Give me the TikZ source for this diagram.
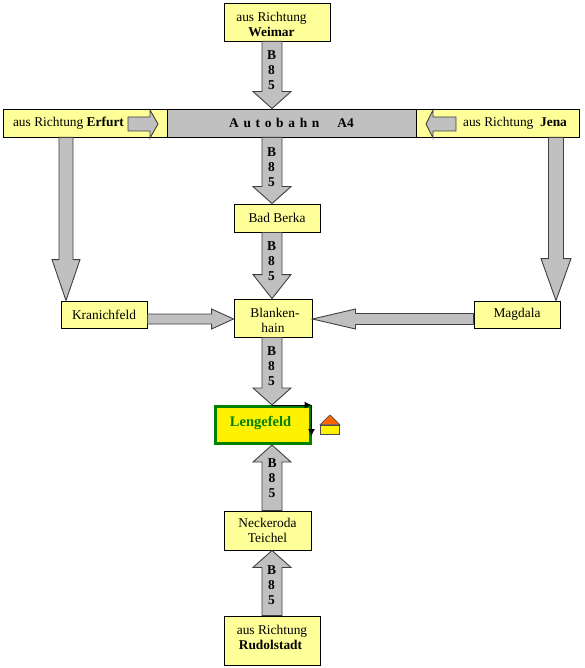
\documentclass[tikz,border=0pt]{standalone}
\usepackage{fontspec}
\setmainfont{Liberation Serif}
\usetikzlibrary{calc,arrows.meta}
\definecolor{boxyellow}{HTML}{FFFF99}
\definecolor{roadgray}{HTML}{C0C0C0}
\definecolor{placegreen}{HTML}{008000}
\definecolor{roofred}{HTML}{FF6600}
\tikzset{
  stopbox/.style={draw=black,line width=0.9pt,fill=boxyellow,inner sep=0pt,align=center},
  roadbox/.style={draw=black,line width=0.9pt,fill=roadgray,inner sep=0pt,align=center},
  placebox/.style={draw=placegreen,line width=3pt,fill=yellow,inner sep=0pt,text=placegreen,font=\fontsize{14.5}{15}\selectfont\bfseries},
  arrowline/.style={draw=black!75,line width=0.9pt,fill=roadgray,line join=miter},
  roadlabel/.style={font=\fontsize{13.5}{15}\selectfont\bfseries,align=center,inner sep=0pt},
  markline/.style={draw=black,line width=1pt,-{Latex[length=7pt,width=7pt]}}
}
\newcommand{\blockarrow}[5]{%
  \draw[arrowline] ($(#1)!#3!90:(#2)$) -- ($(#2)!#5!(#1)!#3!90:(#2)$)
    -- ($(#2)!#5!(#1)!#4!90:(#2)$) -- (#2) -- ($(#2)!#5!(#1)!#4!-90:(#2)$)
    -- ($(#2)!#5!(#1)!#3!-90:(#2)$) -- ($(#1)!#3!-90:(#2)$) -- cycle;}
\begin{document}
\begin{tikzpicture}[x=1pt,y=-1pt,font=\fontsize{13.4}{15}\selectfont]
\useasboundingbox (0,0) rectangle (584,668);
\coordinate (axis) at (272,0);
\coordinate (erfurtaxis) at (66,0);
\coordinate (jenaaxis) at (556,0);
\coordinate (sideaxis) at (0,319);

\node[stopbox,minimum width=106pt,minimum height=38pt] (weimar) at (277,22) {\rule{0pt}{14pt}aus Richtung\hspace*{11pt}\\\textbf{Weimar}\hspace*{11pt}};
\node[roadbox,minimum width=249pt,minimum height=28pt] (autobahn) at (291.5,123) {\spaceskip=4.7pt\textbf{A u t o b a h n \quad A4}};
\node[stopbox,minimum width=164pt,minimum height=28pt] (erfurt) at (85,123) {aus Richtung \textbf{Erfurt}\hspace*{33pt}};
\node[stopbox,minimum width=163pt,minimum height=28pt] (jena) at (497.5,123) {\hspace*{35pt}aus Richtung \ \textbf{Jena}};
\node[stopbox,minimum width=86pt,minimum height=28pt] (badberka) at (277,218) {Bad Berka};
\node[stopbox,minimum width=86pt,minimum height=27pt] (kranichfeld) at (104,314.5) {Kranichfeld};
\node[stopbox,minimum width=86pt,minimum height=27pt] (magdala) at (517,314.5) {Magdala};
\node[stopbox,minimum width=78pt,minimum height=38pt] (blankenhain) at (273,318) {\rule{0pt}{15pt}\hspace*{4pt}Blanken-\\hain};
\node[placebox,minimum width=95pt,minimum height=37pt] (lengefeld) at (263,425) {\rule[-8pt]{0pt}{8pt}Lengefeld\hspace*{5pt}};
\node[stopbox,minimum width=87pt,minimum height=39pt] (neckeroda) at (267.5,530.5) {Neckeroda\\Teichel};
\node[stopbox,minimum width=96pt,minimum height=49pt] (rudolstadt) at (272,640.5) {aus Richtung\\\rule[-7pt]{0pt}{7pt}\textbf{Rudolstadt}\hspace*{3pt}};

\blockarrow{axis |- weimar.south}{axis |- autobahn.north}{10pt}{19pt}{17pt}
\blockarrow{axis |- autobahn.south}{axis |- badberka.north}{10pt}{19pt}{17pt}
\blockarrow{axis |- badberka.south}{axis |- blankenhain.north}{10pt}{19pt}{24pt}
\blockarrow{axis |- blankenhain.south}{axis |- lengefeld.north}{10pt}{19pt}{17pt}
\blockarrow{axis |- neckeroda.north}{axis |- lengefeld.south}{10pt}{19pt}{17pt}
\blockarrow{axis |- rudolstadt.north}{axis |- neckeroda.south}{10pt}{19pt}{17pt}
\blockarrow{erfurtaxis |- erfurt.south}{erfurtaxis |- kranichfeld.north}{7pt}{14pt}{41pt}
\blockarrow{jenaaxis |- jena.south}{jenaaxis |- magdala.north}{7.5pt}{15pt}{42pt}
\blockarrow{kranichfeld.east |- sideaxis}{blankenhain.west |- sideaxis}{5pt}{10pt}{22pt}
\blockarrow{magdala.west |- sideaxis}{blankenhain.east |- sideaxis}{5.5pt}{10pt}{43pt}

\coordinate (erfurttail) at (128,124);
\coordinate (erfurttip) at (158,124);
\coordinate (jenatail) at (456,124);
\coordinate (jenatip) at (426,124);
\blockarrow{erfurttail}{erfurttip}{7pt}{14pt}{8pt}
\blockarrow{jenatail}{jenatip}{7pt}{14pt}{7pt}

\node[roadlabel] (road1) at (271.5,70) {B\\8\\5};
\node[roadlabel] (road2) at (271.5,167) {B\\8\\5};
\node[roadlabel] (road3) at (271.5,261) {B\\8\\5};
\node[roadlabel] (road4) at (271.5,366) {B\\8\\5};
\node[roadlabel] (road5) at (272,478) {B\\8\\5};
\node[roadlabel] (road6) at (271.5,585) {B\\8\\5};

\coordinate (markcorner) at (311.5,405);
\coordinate (markend) at (311.5,436);
\draw[markline] (axis |- markcorner) -- (markcorner);
\draw[markline] (markcorner) -- (markend);

\node[draw=black!70,line width=0.7pt,fill=yellow,inner sep=0pt,minimum width=19pt,minimum height=9pt] (housebody) at (330,429.5) {};
\coordinate (roofpeak) at (330,415);
\draw[draw=black!70,line width=0.7pt,fill=roofred] (housebody.north west) -- (roofpeak) -- (housebody.north east) -- cycle;
\end{tikzpicture}
\end{document}
